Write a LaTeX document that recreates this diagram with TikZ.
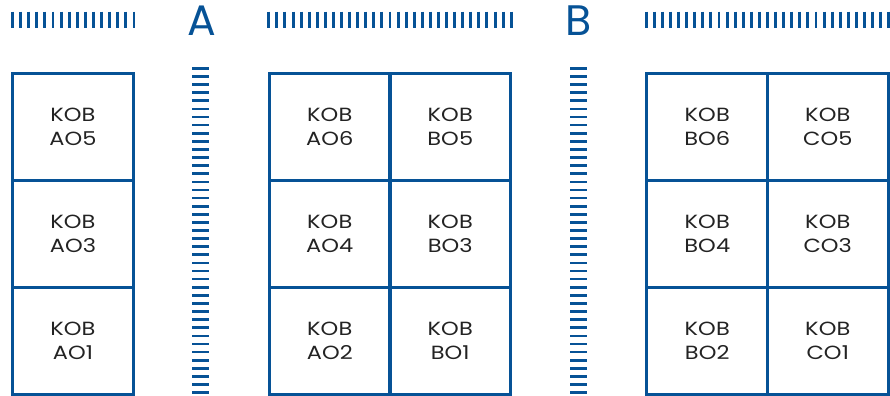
\documentclass[tikz,border=0pt]{standalone}
\usepackage{fontspec}
\setmainfont{Poppins}
\newfontfamily\cellfont[FakeStretch=1.18,LetterSpace=0.5]{Poppins}
\definecolor{kblue}{HTML}{065296}
\definecolor{ktext}{HTML}{232323}
\tikzset{
  cell/.style={draw=kblue, line width=2.25pt, minimum width=90.4pt, minimum height=80.25pt,
    align=center, text=ktext, inner sep=0pt, outer sep=0pt,
    font=\cellfont\fontsize{14.3}{18}\selectfont},
  vtick/.style={draw=kblue, line width=2.2pt},
  htick/.style={draw=kblue, line width=2.0pt},
  biglabel/.style={text=kblue, font=\fontsize{32}{32}\selectfont, inner sep=0pt}
}
\begin{document}
\begin{tikzpicture}[x=0.75pt,y=-0.75pt]
\useasboundingbox (0,0) rectangle (890,396);
% top tick rows
\foreach \i in {0,...,15} \draw[vtick] ({12.5+\i*8.1},11.7) -- ({12.5+\i*8.1},27.7);
\foreach \i in {0,...,30} \draw[vtick] ({268.8+\i*8.08},11.7) -- ({268.8+\i*8.08},27.7);
\foreach \i in {0,...,30} \draw[vtick] ({646.3+\i*8.08},11.7) -- ({646.3+\i*8.08},27.7);
% vertical tick columns
\foreach \i in {0,...,40} \draw[htick] (192,{68.3+\i*8.11}) -- (209,{68.3+\i*8.11});
\foreach \i in {0,...,40} \draw[htick] (570,{68.3+\i*8.11}) -- (587,{68.3+\i*8.11});
% letters
\node[biglabel] (lA) at (201.5,21) {A};
\node[biglabel] (lB) at (579,21) {B};
% left column
\node[cell] (ao5) at (72.9,126.5) {KOB\\AO5};
\node[cell] (ao3) at (72.9,233.5) {KOB\\AO3};
\node[cell] (ao1) at (72.9,340.5) {KOB\\AO1};
% middle block
\node[cell] (ao6) at (329.75,126.5) {KOB\\AO6};
\node[cell] (bo5) at (450.25,126.5) {KOB\\BO5};
\node[cell] (ao4) at (329.75,233.5) {KOB\\AO4};
\node[cell] (bo3) at (450.25,233.5) {KOB\\BO3};
\node[cell] (ao2) at (329.75,340.5) {KOB\\AO2};
\node[cell] (bo1) at (450.25,340.5) {KOB\\BO1};
% right block
\node[cell] (bo6) at (707.25,126.5) {KOB\\BO6};
\node[cell] (co5) at (827.75,126.5) {KOB\\CO5};
\node[cell] (bo4) at (707.25,233.5) {KOB\\BO4};
\node[cell] (co3) at (827.75,233.5) {KOB\\CO3};
\node[cell] (bo2) at (707.25,340.5) {KOB\\BO2};
\node[cell] (co1) at (827.75,340.5) {KOB\\CO1};
\end{tikzpicture}
\end{document}
